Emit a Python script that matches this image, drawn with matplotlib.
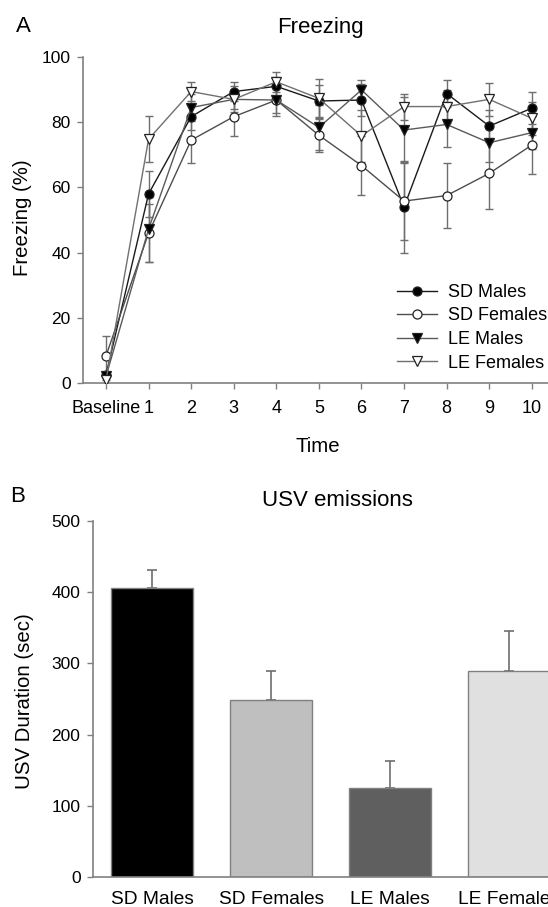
import matplotlib
matplotlib.use("Agg")
import matplotlib.pyplot as plt
import numpy as np

plt.rcParams['font.family'] = ['Liberation Sans', 'DejaVu Sans']

# ---- Data: Panel A (Freezing) ----
time_labels = ["Baseline", "1", "2", "3", "4", "5", "6", "7", "8", "9", "10"]
sd_males = [2.5, 58, 81.7, 89.4, 91, 86.5, 86.8, 54, 88.8, 78.8, 84.3]
sd_males_err = [1, 7, 4, 3, 3, 5, 5, 14, 4, 5, 5]
sd_females = [8.3, 46, 74.5, 81.7, 86.8, 76, 66.7, 55.8, 57.5, 64.3, 73]
sd_females_err = [6, 9, 7, 6, 5, 5, 9, 12, 10, 11, 9]
le_males = [2, 47.2, 84.5, 87, 86.8, 78.4, 89.9, 77.6, 79.3, 73.7, 76.8]
le_males_err = [1, 10, 4, 3, 4, 7, 3, 10, 7, 6, 5]
le_females = [0.8, 74.8, 89.4, 87, 92.4, 87.3, 75.8, 84.8, 84.8, 87, 81.2]
le_females_err = [1, 7, 3, 4, 3, 6, 8, 4, 5, 5, 5]

# ---- Data: Panel B (USV) ----
groups = ["SD Males", "SD Females", "LE Males", "LE Females"]
usv = [405.7, 249, 124.4, 289]
usv_err = [26, 41, 38, 57]
bar_colors = ["#000000", "#bfbfbf", "#5f5f5f", "#e0e0e0"]

W, H = 548, 907
fig = plt.figure(figsize=(W / 100, H / 100), dpi=100)
spine_c = "#808080"

# ---------- Panel A ----------
axA = fig.add_axes([83 / W, 1 - 383 / H, 1 - 83 / W, (383 - 57) / H])
x = np.arange(len(time_labels))
series = [
    ("SD Males", sd_males, sd_males_err, "o", "black", "#1a1a1a"),
    ("SD Females", sd_females, sd_females_err, "o", "white", "#4d4d4d"),
    ("LE Males", le_males, le_males_err, "v", "black", "#5a5a5a"),
    ("LE Females", le_females, le_females_err, "v", "white", "#707070"),
]
handles = []
for name, vals, err, mk, mfc, lc in series:
    axA.errorbar(x, vals, yerr=err, fmt="none", ecolor="#6e6e6e",
                 elinewidth=1.0, capsize=2.8, capthick=1.0, zorder=2)
    h, = axA.plot(x, vals, color=lc, lw=1.0, marker=mk, markersize=6.5,
                  markerfacecolor=mfc, markeredgecolor="#222222",
                  markeredgewidth=0.9, label=name, zorder=3)
    handles.append(h)

axA.set_xlim(-0.54, 10.38)
axA.set_ylim(0, 100)
axA.set_xticks(x)
axA.set_xticklabels(time_labels)
axA.set_yticks([0, 20, 40, 60, 80, 100])
axA.tick_params(axis="x", labelsize=13, colors=spine_c, labelcolor="black",
                direction="out", length=4, width=1, pad=8)
axA.tick_params(axis="y", labelsize=12.5, colors=spine_c, labelcolor="black",
                direction="out", length=4, width=1, pad=5)
for s in ["top", "right"]:
    axA.spines[s].set_visible(False)
for s in ["left", "bottom"]:
    axA.spines[s].set_color(spine_c)
    axA.spines[s].set_linewidth(1.2)

leg = axA.legend(handles=handles, loc="upper left",
                 bbox_to_anchor=(397 / W, 1 - 284 / H),
                 bbox_transform=fig.transFigure, frameon=False,
                 fontsize=13, handlelength=2.2, handletextpad=0.6,
                 labelspacing=0.36, borderpad=0, borderaxespad=0)

fig.text(16 / W, 1 - 26 / H, "A", fontsize=16, ha="left", va="center")
fig.text(320 / W, 1 - 27 / H, "Freezing", fontsize=16, ha="center", va="center")
fig.text(318 / W, 1 - 446 / H, "Time", fontsize=14.7, ha="center", va="center")
fig.text(23 / W, 1 - 218 / H, "Freezing (%)", fontsize=14.7, ha="center",
         va="center", rotation=90)

# ---------- Panel B ----------
axB = fig.add_axes([93 / W, 1 - 877 / H, 1 - 93 / W, (877 - 521) / H])
xb = np.arange(len(groups))
axB.bar(xb, usv, width=0.69, color=bar_colors, edgecolor=spine_c,
        linewidth=1.0, zorder=2)
axB.errorbar(xb, usv, yerr=[np.zeros(len(usv)), usv_err], fmt="none",
             ecolor="#6e6e6e", elinewidth=1.2, capsize=3.8, capthick=1.2, zorder=1)
axB.set_xlim(-0.5, 3.33)
axB.set_ylim(0, 500)
axB.set_xticks(xb)
axB.set_xticklabels(groups)
axB.set_yticks([0, 100, 200, 300, 400, 500])
axB.tick_params(axis="y", labelsize=12.5, colors=spine_c, labelcolor="black",
                direction="out", length=4, width=1, pad=5)
axB.tick_params(axis="x", labelsize=13.8, length=0, pad=10, labelcolor="black")
for s in ["top", "right"]:
    axB.spines[s].set_visible(False)
for s in ["left", "bottom"]:
    axB.spines[s].set_color(spine_c)
    axB.spines[s].set_linewidth(1.2)
fig.text(25 / W, 1 - 701 / H, "USV Duration (sec)", fontsize=14.7, ha="center",
         va="center", rotation=90)

fig.text(10 / W, 1 - 497 / H, "B", fontsize=16, ha="left", va="center")
fig.text(337 / W, 1 - 500 / H, "USV emissions", fontsize=16, ha="center", va="center")

fig.savefig("out.png", dpi=100)
